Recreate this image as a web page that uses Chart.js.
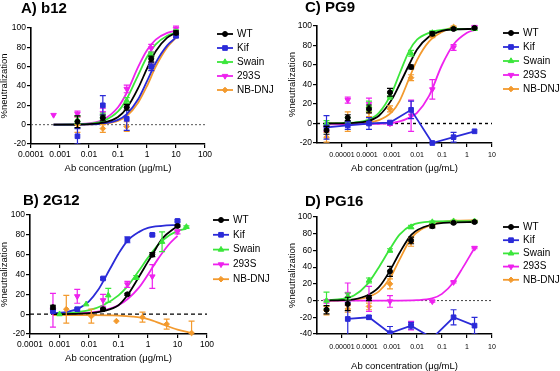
<!DOCTYPE html>
<html><head><meta charset="utf-8">
<script src="https://cdn.jsdelivr.net/npm/chart.js@4.4.1/dist/chart.umd.min.js"></script>
<style>
html,body{margin:0;padding:0;background:#fff;}
#wrap{position:relative;width:560px;height:371px;overflow:hidden;background:#fff;}
canvas{position:absolute;display:block;}
</style></head><body>
<div id="wrap">
<canvas id="cA" width="280" height="185" style="left:0;top:0"></canvas>
<canvas id="cC" width="280" height="185" style="left:280px;top:0"></canvas>
<canvas id="cB" width="280" height="186" style="left:0;top:185px"></canvas>
<canvas id="cD" width="280" height="186" style="left:280px;top:185px"></canvas>
</div>
<script>
// ---------- labels / ticks ----------
const seriesNames = ['WT', 'Kif', 'Swain', '293S', 'NB-DNJ'];
const xTicksAB = [0.0001, 0.001, 0.01, 0.1, 1, 10, 100];
const xTickLabelsAB = ['0.0001', '0.001', '0.01', '0.1', '1', '10', '100'];
const xTicksCD = [0.00001, 0.0001, 0.001, 0.01, 0.1, 1, 10];
const xTickLabelsCD = ['0.00001', '0.0001', '0.001', '0.01', '0.1', '1', '10'];
const yTicksABC = [-20, 0, 20, 40, 60, 80, 100];
const yTicksD = [-40, -20, 0, 20, 40, 60, 80, 100];
const xAxisTitle = 'Ab concentration (μg/mL)';
const yAxisTitle = '%neutralization';

// ---------- Panel A: b12 ----------
const concA = [0.0006, 0.004, 0.03, 0.2, 1.4, 10];
const wtA = [null, 3, 7, 18, 68, 95];
const wtErrA = [0, 6, 3, 3, 3, 2];
const kifA = [null, -12, 20, 6, 60, 92];
const kifErrA = [0, 8, 10, 12, 4, 2];
const swainA = [null, 5, 9, 25, 72, 96];
const swainErrA = [0, 4, 3, 3, 3, 2];
const s293A = [10, 11, 12, 37, 79, 99];
const s293ErrA = [0, 3, 5, 4, 4, 3];
const nbA = [null, 0, -4, -2, 61, 92];
const nbErrA = [0, 8, 4, 5, 3, 2];
const fitXA = [0.0006, 0.002, 0.005, 0.01, 0.03, 0.1, 0.2, 0.5, 1, 2, 5, 10];
const wtFitA = [0, 0.1, 0.2, 0.6, 2, 8, 17, 38, 58, 76, 90, 95];
const kifFitA = [0, 0, 0.1, 0.3, 1.2, 5, 11, 26.5, 45, 64, 82, 90];
const swainFitA = [0, 0.15, 0.4, 1, 3.6, 13.7, 26.6, 51.6, 70, 83, 92, 95];
const s293FitA = [0, 0.2, 0.6, 1.4, 5, 18, 33, 60, 77, 88, 95, 97];
const nbFitA = [0, 0, 0.1, 0.3, 1, 4, 9, 23, 40, 60, 80, 90];

// ---------- Panel B: 2G12 ----------
const concWtB = [0.0006, 0.03, 0.2, 1.4, 10];
const wtB = [7, 5, 20, 60, 89];
const wtErrB = [2, 1, 1, 2, 1];
const concKifB = [0.0006, 0.004, 0.03, 0.2, 1.4, 10];
const kifB = [3, 5, 36, 75, 80, 94];
const kifErrB = [1, 1, 1, 3, 1, 1];
const concSwainB = [0.001, 0.008, 0.045, 0.4, 3, 20];
const swainB = [0, 10, 19, 37, 73, 88];
const swainErrB = [0, 0, 7, 2, 10, 1];
const conc293B = [0.0006, 0.004, 0.03, 0.2, 1.4, 10];
const s293B = [4, 18, 14, 30, 38, 83];
const s293ErrB = [17, 7, 6, 3, 12, 2];
const concNbB = [0.0017, 0.012, 0.085, 0.65, 4.3, 30];
const nbB = [5, -2, -7, -3, -10, -19];
const nbErrB = [14, 7, 0, 5, 5, 12];
const fitXKifB = [0.0006, 0.002, 0.005, 0.01, 0.02, 0.05, 0.1, 0.2, 0.5, 1, 3, 10];
const kifFitB = [1, 2.5, 6.6, 13, 24, 45, 61, 74, 83, 87, 89, 90];
const fitXWtB = [0.0006, 0.003, 0.01, 0.03, 0.1, 0.2, 0.5, 1, 1.4, 3, 10];
const wtFitB = [0, 0.3, 1, 3, 9, 19, 38, 53, 60, 76, 89];
const fitXSwainB = [0.0006, 0.003, 0.01, 0.03, 0.1, 0.2, 0.5, 1, 3, 10, 20];
const swainFitB = [0.5, 1.5, 4, 9, 19, 28, 44, 57, 74, 84, 86];
const fitX293B = [0.0006, 0.003, 0.01, 0.03, 0.1, 0.2, 0.5, 1, 2, 5, 10];
const s293FitB = [0.2, 0.7, 1.5, 3.5, 9, 15, 27, 40, 54, 70, 79];
const fitXNbB = [0.0006, 0.01, 0.1, 0.3, 1, 3, 10, 30];
const nbFitB = [-1, -1, -1.5, -2.5, -5, -10, -15.5, -19];

// ---------- Panels C (PG9) and D (PG16) ----------
const concCD = [0.0000024, 0.000017, 0.00012, 0.00083, 0.0058, 0.041, 0.29, 2];
const wtC = [-7, 6, 15, 32, 58, 92, 97, 98];
const wtErrC = [4, 3, 4, 4, 2, 2, 1, 1];
const kifC = [-4, -2, 0, 1, 14, -20, -14, -8];
const kifErrC = [12, 4, 6, 0, 9, 0, 5, 0];
const swainC = [0, 3, 18, 28, 72, 93, 97, 97];
const swainErrC = [3, 3, 5, 3, 3, 2, 1, 1];
const s293C = [-5, 24, 20, 0, 8, 35, 78, 99];
const s293ErrC = [3, 3, 6, 2, 16, 10, 3, 1];
const nbC = [-14, 2, 12, 15, 47, 90, 99, null];
const nbErrC = [5, 10, 5, 3, 3, 2, 1, 0];
const fitXC = [0.0000024, 0.00001, 0.00003, 0.0001, 0.0003, 0.001, 0.002, 0.005, 0.01, 0.03, 0.1, 0.29, 2];
const wtFitC = [0, 0.2, 0.6, 2.2, 8, 25, 40, 61, 76, 89, 95, 96.5, 97];
const swainFitC = [0, 0.3, 1, 3.5, 11, 32, 51, 75, 86, 93, 96, 97, 97];
const fitXNbC = [0.0000024, 0.00001, 0.00003, 0.0001, 0.0003, 0.001, 0.002, 0.005, 0.01, 0.03, 0.1, 0.29];
const nbFitC = [0, 0.1, 0.3, 1, 3.5, 12, 23, 47, 65, 84, 94, 99];
const fitX293C = [0.0000024, 0.0001, 0.001, 0.005, 0.01, 0.03, 0.1, 0.29, 1, 2];
const s293FitC = [-1, -0.5, 0.5, 6, 11, 28, 60, 81, 93, 96];

const wtD = [-11, -4, 3, 35, 72, 89, 93, 94];
const wtErrD = [5, 8, 3, 6, 4, 2, 1, 1];
const kifD = [null, -22, -20, -39, -30, -45, -20, -30];
const kifErrD = [0, 20, 2, 8, 4, 0, 9, 10];
const swainD = [0, 5, 24, 60, 88, 94, 95, 95];
const swainErrD = [10, 4, 3, 2, 2, 1, 1, 1];
const s293D = [-1, 8, 2, -1, -30, -1, 22, 63];
const s293ErrD = [2, 13, 15, 7, 5, 1, 1, 1];
const nbD = [-12, -10, -7, 20, 70, 90, 95, 95];
const nbErrD = [5, 4, 4, 6, 5, 2, 1, 1];
const fitXD = [0.0000024, 0.00001, 0.00003, 0.0001, 0.0003, 0.0008, 0.002, 0.006, 0.04, 0.29, 2];
const wtFitD = [0, 0.5, 1.5, 6, 16, 35, 57, 79, 91, 93.5, 94];
const swainFitD = [0.5, 2, 6, 19, 40, 61, 79, 90, 94.5, 95, 95];
const nbFitD = [0, 0.3, 1, 4, 11, 26, 49, 75, 91, 95.5, 96];
const fitX293D = [0.0000024, 0.001, 0.01, 0.04, 0.1, 0.29, 0.7, 2];
const s293FitD = [0, 0, 0.5, 2.5, 8, 22, 40, 63];

// ---------- styles ----------
const FONT = "'Liberation Sans', Arial, Helvetica, sans-serif";
Chart.defaults.font.family = FONT;
Chart.defaults.color = '#000';
const STY = {
  'WT':     {color: '#000000', style: 'circle',   r: 2.5, rot: 0},
  'Kif':    {color: '#2b2bd8', style: 'rect',     r: 3.3, rot: 0},
  'Swain':  {color: '#3be63b', style: 'triangle', r: 3.2, rot: 0},
  '293S':   {color: '#ee22ee', style: 'triangle', r: 3.2, rot: 180},
  'NB-DNJ': {color: '#f39a2e', style: 'rectRot',  r: 2.8, rot: 0}
};

function pts(xs, ys, es) {
  const out = [];
  xs.forEach((x, i) => { if (ys[i] !== null && ys[i] !== undefined) out.push({x: x, y: ys[i], e: es ? es[i] : 0}); });
  return out;
}
function fitPts(xs, ys) { return xs.map((x, i) => ({x: x, y: ys[i]})); }

function drawMarker(ctx, st, x, y) {
  ctx.fillStyle = st.color; ctx.strokeStyle = st.color; ctx.lineWidth = 1;
  if (Chart.helpers && Chart.helpers.drawPoint) {
    Chart.helpers.drawPoint(ctx, {pointStyle: st.style, radius: st.r, rotation: st.rot, borderWidth: 1}, x, y);
  } else {
    ctx.beginPath(); ctx.arc(x, y, st.r, 0, Math.PI * 2); ctx.fill();
  }
}

function prismPlugin(p) {
  return {
    id: 'prism',
    beforeDatasetsDraw(chart) {
      const {ctx, chartArea} = chart;
      const y0 = chart.scales.y.getPixelForValue(0);
      ctx.save();
      ctx.strokeStyle = p.zero.color; ctx.lineWidth = p.zero.w; ctx.setLineDash(p.zero.dash);
      ctx.beginPath(); ctx.moveTo(chartArea.left, y0); ctx.lineTo(chartArea.right, y0); ctx.stroke();
      ctx.restore();
    },
    afterDatasetDraw(chart, args) {
      const ds = chart.data.datasets[args.index];
      if (!ds.hasErr) return;
      const {ctx, chartArea} = chart;
      const xs = chart.scales.x, ys = chart.scales.y;
      ctx.save();
      ctx.beginPath();
      ctx.rect(chartArea.left - 6, chartArea.top - 6, chartArea.right - chartArea.left + 12, chartArea.bottom - chartArea.top + 6);
      ctx.clip();
      ctx.strokeStyle = ds.borderColor; ctx.lineWidth = 1.2;
      ds.data.forEach(pt => {
        if (!pt.e) return;
        const px = xs.getPixelForValue(pt.x);
        const y1 = ys.getPixelForValue(pt.y + pt.e), y2 = ys.getPixelForValue(pt.y - pt.e);
        ctx.beginPath();
        ctx.moveTo(px, y1); ctx.lineTo(px, y2);
        ctx.moveTo(px - 3, y1); ctx.lineTo(px + 3, y1);
        ctx.moveTo(px - 3, y2); ctx.lineTo(px + 3, y2);
        ctx.stroke();
      });
      ctx.restore();
    },
    afterDraw(chart) {
      const ctx = chart.ctx;
      ctx.save();
      ctx.fillStyle = '#000';
      ctx.font = 'bold 15px ' + FONT;
      ctx.textBaseline = 'alphabetic'; ctx.textAlign = 'left';
      ctx.fillText(p.title, p.titleX, p.titleY);
      ctx.font = '10px ' + FONT;
      ctx.textBaseline = 'middle';
      seriesNames.forEach((name, i) => {
        const st = STY[name];
        const y = p.legY + i * p.legDy;
        ctx.strokeStyle = st.color; ctx.lineWidth = 1.8;
        ctx.beginPath(); ctx.moveTo(p.legX, y); ctx.lineTo(p.legX + 16, y); ctx.stroke();
        drawMarker(ctx, st, p.legX + 8, y);
        ctx.fillStyle = '#000';
        ctx.fillText(name, p.legX + 20, y);
      });
      ctx.restore();
    }
  };
}

function makePanel(p) {
  const datasets = [];
  p.series.forEach(s => {
    const st = STY[s.name];
    if (s.fitX) {
      datasets.push({
        label: s.name + ' fit', data: fitPts(s.fitX, s.fitY), showLine: true, pointRadius: 0,
        borderColor: st.color, backgroundColor: st.color, borderWidth: 1.8,
        cubicInterpolationMode: 'monotone', order: 1
      });
    }
    datasets.push({
      label: s.name, data: pts(s.x, s.y, s.err), showLine: !!s.connect,
      borderColor: st.color, backgroundColor: st.color, borderWidth: 1.8,
      pointStyle: st.style, pointRadius: st.r, pointRotation: st.rot, pointBorderWidth: 1,
      pointBackgroundColor: st.color, pointBorderColor: st.color,
      clip: s.connect ? p.lineClip : 8, hasErr: true, order: 0
    });
  });
  const grid = {display: true, drawOnChartArea: false, drawTicks: true, tickLength: 4, color: '#000', lineWidth: 1.2};
  const border = {display: true, color: '#000', width: 1.6};
  return new Chart(document.getElementById(p.canvas), {
    type: 'scatter',
    data: {datasets: datasets},
    options: {
      responsive: false, animation: false, events: [],
      layout: {padding: {left: 0, right: p.pr, top: p.pt, bottom: p.pb}},
      plugins: {legend: {display: false}, tooltip: {enabled: false}, title: {display: false}},
      scales: {
        x: {
          type: 'logarithmic', min: p.xmin, max: p.xmax,
          afterBuildTicks: s => { s.ticks = p.xTicks.map(v => ({value: v})); },
          afterFit: s => { s.height = p.xh; },
          ticks: {autoSkip: false, maxRotation: 0, minRotation: 0, padding: p.xpad, color: '#000',
                  font: {size: p.xtickSize}, callback: (v, i) => p.xLabels[i]},
          grid: grid, border: border,
          title: {display: true, text: xAxisTitle, color: '#000', font: {size: 9.5, lineHeight: 1}, padding: {top: 0, bottom: 0}}
        },
        y: {
          type: 'linear', min: p.yTicks[0], max: p.yTicks[p.yTicks.length - 1],
          afterBuildTicks: s => { s.ticks = p.yTicks.map(v => ({value: v})); },
          afterFit: s => { s.width = p.yw; },
          ticks: {padding: 1, color: '#000', font: {size: 8.5}, callback: v => String(v)},
          grid: grid, border: border,
          title: {display: true, text: yAxisTitle, color: '#000', font: {size: 9.5, lineHeight: 1}, padding: {top: p.ytp, bottom: 0}}
        }
      }
    },
    plugins: [prismPlugin(p)]
  });
}

makePanel({
  canvas: 'cA', title: 'A) b12', titleX: 21, titleY: 13,
  xmin: 0.0001, xmax: 100, xTicks: xTicksAB, xLabels: xTickLabelsAB, xtickSize: 8.5, xpad: 2,
  yTicks: yTicksABC, yw: 31, ytp: 0, xh: 29, pt: 28, pr: 75, pb: 12,
  legX: 217, legY: 34, legDy: 14, zero: {color: '#555', w: 1, dash: [2, 2]}, lineClip: 8,
  series: [
    {name: 'WT', x: concA, y: wtA, err: wtErrA, fitX: fitXA, fitY: wtFitA},
    {name: 'Kif', x: concA, y: kifA, err: kifErrA, fitX: fitXA, fitY: kifFitA},
    {name: 'Swain', x: concA, y: swainA, err: swainErrA, fitX: fitXA, fitY: swainFitA},
    {name: '293S', x: concA, y: s293A, err: s293ErrA, fitX: fitXA, fitY: s293FitA},
    {name: 'NB-DNJ', x: concA, y: nbA, err: nbErrA, fitX: fitXA, fitY: nbFitA}
  ]
});

makePanel({
  canvas: 'cB', title: 'B) 2G12', titleX: 23, titleY: 19.5,
  xmin: 0.0001, xmax: 100, xTicks: xTicksAB, xLabels: xTickLabelsAB, xtickSize: 8.5, xpad: 1.5,
  yTicks: yTicksABC, yw: 30, ytp: 0, xh: 29, pt: 30, pr: 73, pb: 8,
  legX: 213, legY: 35, legDy: 14.8, zero: {color: '#000', w: 1.4, dash: [4, 3]}, lineClip: 8,
  series: [
    {name: 'WT', x: concWtB, y: wtB, err: wtErrB, fitX: fitXWtB, fitY: wtFitB},
    {name: 'Kif', x: concKifB, y: kifB, err: kifErrB, fitX: fitXKifB, fitY: kifFitB},
    {name: 'Swain', x: concSwainB, y: swainB, err: swainErrB, fitX: fitXSwainB, fitY: swainFitB},
    {name: '293S', x: conc293B, y: s293B, err: s293ErrB, fitX: fitX293B, fitY: s293FitB},
    {name: 'NB-DNJ', x: concNbB, y: nbB, err: nbErrB, fitX: fitXNbB, fitY: nbFitB}
  ]
});

makePanel({
  canvas: 'cC', title: 'C) PG9', titleX: 25, titleY: 12,
  xmin: 0.000001, xmax: 10, xTicks: xTicksCD, xLabels: xTickLabelsCD, xtickSize: 7, xpad: 3.8,
  yTicks: yTicksABC, yw: 37, ytp: 8, xh: 30, pt: 26, pr: 68, pb: 12,
  legX: 223, legY: 33, legDy: 14, zero: {color: '#000', w: 1.4, dash: [3, 3]}, lineClip: 8,
  series: [
    {name: 'WT', x: concCD, y: wtC, err: wtErrC, fitX: fitXC, fitY: wtFitC},
    {name: 'Kif', x: concCD, y: kifC, err: kifErrC, connect: true},
    {name: 'Swain', x: concCD, y: swainC, err: swainErrC, fitX: fitXC, fitY: swainFitC},
    {name: '293S', x: concCD, y: s293C, err: s293ErrC, fitX: fitX293C, fitY: s293FitC},
    {name: 'NB-DNJ', x: concCD, y: nbC, err: nbErrC, fitX: fitXNbC, fitY: nbFitC}
  ]
});

makePanel({
  canvas: 'cD', title: 'D) PG16', titleX: 25, titleY: 20.5,
  xmin: 0.000001, xmax: 10, xTicks: xTicksCD, xLabels: xTickLabelsCD, xtickSize: 7, xpad: 4.5,
  yTicks: yTicksD, yw: 37, ytp: 8, xh: 37, pt: 32, pr: 68, pb: 0,
  legX: 223, legY: 42, legDy: 13.2, zero: {color: '#444', w: 1, dash: [2, 2]},
  lineClip: {left: 8, top: 8, right: 8, bottom: 0},
  series: [
    {name: 'WT', x: concCD, y: wtD, err: wtErrD, fitX: fitXD, fitY: wtFitD},
    {name: 'Kif', x: concCD, y: kifD, err: kifErrD, connect: true},
    {name: 'Swain', x: concCD, y: swainD, err: swainErrD, fitX: fitXD, fitY: swainFitD},
    {name: '293S', x: concCD, y: s293D, err: s293ErrD, fitX: fitX293D, fitY: s293FitD},
    {name: 'NB-DNJ', x: concCD, y: nbD, err: nbErrD, fitX: fitXD, fitY: nbFitD}
  ]
});
</script>
</body></html>
